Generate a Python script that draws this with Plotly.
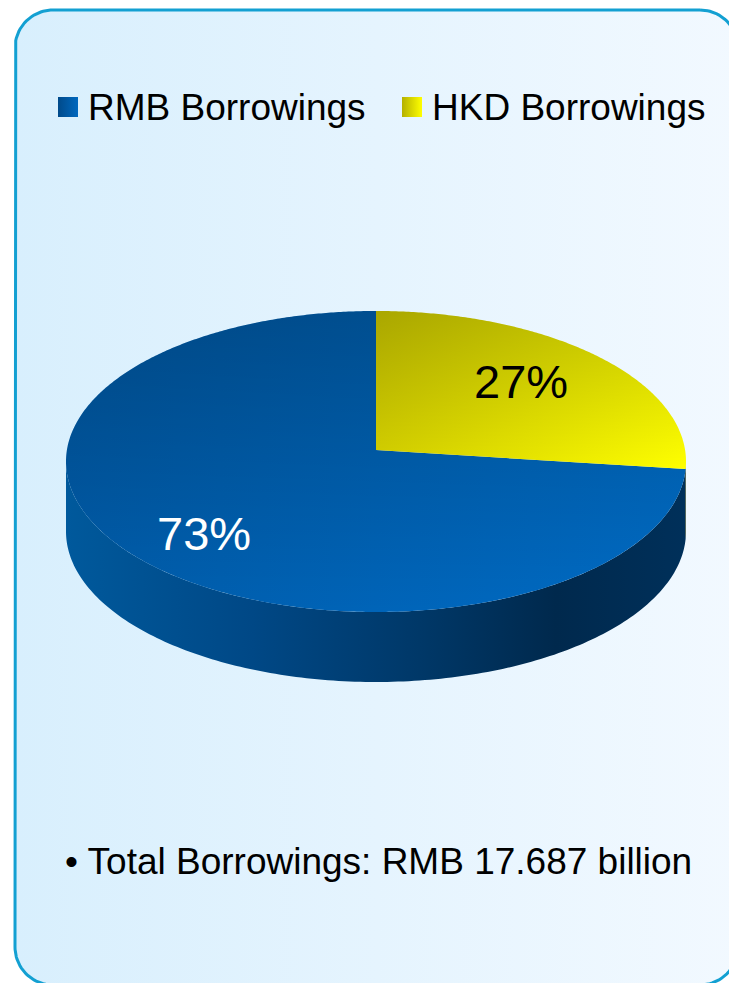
import math
import plotly.graph_objects as go

# ---- data -------------------------------------------------------------
categories = ["RMB Borrowings", "HKD Borrowings"]
shares = [73, 27]  # percent of total borrowings
total_text = "• Total Borrowings: RMB 17.687 billion"

# ---- canvas / geometry -------------------------------------------------
W, H = 729, 983
CX, CY, RX, RY = 376.0, 461.5, 310.0, 150.5   # outline of the pie's top face
DEPTH = 70.0                                  # thickness of the 3-D disc
TILT = -0.076                                 # perspective shift of the centre
TILT_C = math.sqrt(1 - TILT ** 2)
FIRST_ANGLE = 97.2                            # first slice offset, clockwise from 12 o'clock

FONT = "Arial, 'Liberation Sans', sans-serif"

face_styles = [
    dict(base=["#005caa", "#006cc6"], shade=0.22),
    dict(base=["#d4d000", "#ffff00"], shade=0.20),
]
wall_styles = [
    [[0.0, "#00599c"], [0.30, "#004886"], [0.57, "#003868"], [0.79, "#00294d"], [1.0, "#00305a"]],
    [[0.0, "#5c5a00"], [1.0, "#4a4800"]],
]
label_colors = ["white", "black"]
label_xy = [(203.5, 533.5), (520.5, 381.5)]
legend_colors = [("#004a8a", "#0068bf"), ("#b4b000", "#ffff00")]


def project(theta_deg, r=1.0):
    """Map a point of the flat disc (angle, radius) to the tilted, perspective top face."""
    t = math.radians(theta_deg)
    X = r * math.cos(t)
    S = -r * math.sin(t)           # positive towards the viewer (down the page)
    den = 1 + TILT * S
    u = X * TILT_C / den
    v = (S + TILT) / den
    return CX + RX * u, CY + RY * v


def rim_param(theta_deg):
    x, y = project(theta_deg)
    return math.atan2((y - CY) / RY, (x - CX) / RX)


def rounded_rect(x0, y0, x1, y1, r, n=24):
    xs, ys = [], []
    corners = [(x1 - r, y0 + r, -90, 0), (x1 - r, y1 - r, 0, 90),
               (x0 + r, y1 - r, 90, 180), (x0 + r, y0 + r, 180, 270)]
    for cx, cy, a0, a1 in corners:
        for i in range(n + 1):
            a = math.radians(a0 + (a1 - a0) * i / n)
            xs.append(cx + r * math.cos(a))
            ys.append(cy + r * math.sin(a))
    xs.append(xs[0]); ys.append(ys[0])
    return xs, ys


fig = go.Figure()

# panel background
bx, by = rounded_rect(15, 10, 738, 985, 38)
fig.add_trace(go.Scatter(
    x=bx, y=by, mode="lines", fill="toself",
    line=dict(color="#13a0d2", width=3),
    fillgradient=dict(type="horizontal", start=15, stop=738,
                      colorscale=[[0, "#d8effd"], [1, "#f2f9ff"]]),
    hoverinfo="skip", showlegend=False))

# slice angles (clockwise)
total = sum(shares)
bounds = []
start = 90 - FIRST_ANGLE
for s in shares:
    sweep = 360 * s / total
    bounds.append((start, start - sweep))
    start -= sweep

# side wall of the disc (only the front half is visible)
for (a1, a2), grad in zip(bounds, wall_styles):
    p1 = rim_param(a1)
    span = (rim_param(a2) - p1) % (2 * math.pi)
    for off in (0.0, 2 * math.pi, -2 * math.pi):
        lo = max(p1 + off, 0.0)
        hi = min(p1 + off + span, math.pi)
        if hi <= lo:
            continue
        n = max(4, int((hi - lo) / math.pi * 180))
        ps = [lo + (hi - lo) * i / n for i in range(n + 1)]
        top = [(CX + RX * math.cos(p), CY + RY * math.sin(p)) for p in ps]
        bot = [(x, y + DEPTH) for x, y in reversed(top)]
        pts = top + bot + [top[0]]
        fig.add_trace(go.Scatter(
            x=[p[0] for p in pts], y=[p[1] for p in pts], mode="none", fill="toself",
            fillgradient=dict(type="horizontal", start=CX - RX, stop=CX + RX, colorscale=grad),
            hoverinfo="skip", showlegend=False))

# top faces
for (a1, a2), st in zip(bounds, face_styles):
    n = max(8, int(abs(a1 - a2) * 2))
    arc = [project(a1 + (a2 - a1) * i / n) for i in range(n + 1)]
    cx0, cy0 = project(0, 0)
    pts = [(cx0, cy0)] + arc + [(cx0, cy0)]
    xs = [p[0] for p in pts]
    ys = [p[1] for p in pts]
    x_lo, x_hi = min(xs), max(xs)
    y_lo, y_hi = min(ys), max(ys)
    fig.add_trace(go.Scatter(
        x=xs, y=ys, mode="none", fill="toself",
        fillgradient=dict(type="horizontal", start=x_lo, stop=x_hi,
                          colorscale=[[0, st["base"][0]], [1, st["base"][1]]]),
        hoverinfo="skip", showlegend=False))
    fig.add_trace(go.Scatter(
        x=xs, y=ys, mode="none", fill="toself",
        fillgradient=dict(type="vertical", start=y_lo, stop=y_hi,
                          colorscale=[[0, "rgba(0,0,0,%.2f)" % st["shade"]], [1, "rgba(0,0,0,0)"]]),
        hoverinfo="skip", showlegend=False))

# percentage labels
for s, (lx, ly), col in zip(shares, label_xy, label_colors):
    fig.add_annotation(x=lx, y=ly, text=f"{s}%", showarrow=False,
                       xanchor="center", yanchor="middle",
                       font=dict(family=FONT, size=47, color=col))

# legend
legend_pos = [(68, 107), (412, 107)]
for name, (mx, my), (c0, c1) in zip(categories, legend_pos, legend_colors):
    fig.add_trace(go.Scatter(
        x=[mx], y=[my], mode="markers",
        marker=dict(symbol="square", size=20, color=c0,
                    gradient=dict(type="horizontal", color=c1), line=dict(width=0)),
        hoverinfo="skip", showlegend=False))
    fig.add_annotation(x=mx + 18, y=my, text=name, showarrow=False,
                       xanchor="left", yanchor="middle",
                       font=dict(family=FONT, size=37, color="black"))

# footnote
fig.add_annotation(x=63, y=861, text=total_text, showarrow=False,
                   xanchor="left", yanchor="middle",
                   font=dict(family=FONT, size=37, color="black"))

fig.update_layout(
    width=W, height=H,
    margin=dict(l=0, r=0, t=0, b=0),
    paper_bgcolor="white", plot_bgcolor="white",
    xaxis=dict(range=[0, W], visible=False, fixedrange=True),
    yaxis=dict(range=[H, 0], visible=False, fixedrange=True),
    showlegend=False,
)

fig.write_html("out.html", config={"displayModeBar": False})
